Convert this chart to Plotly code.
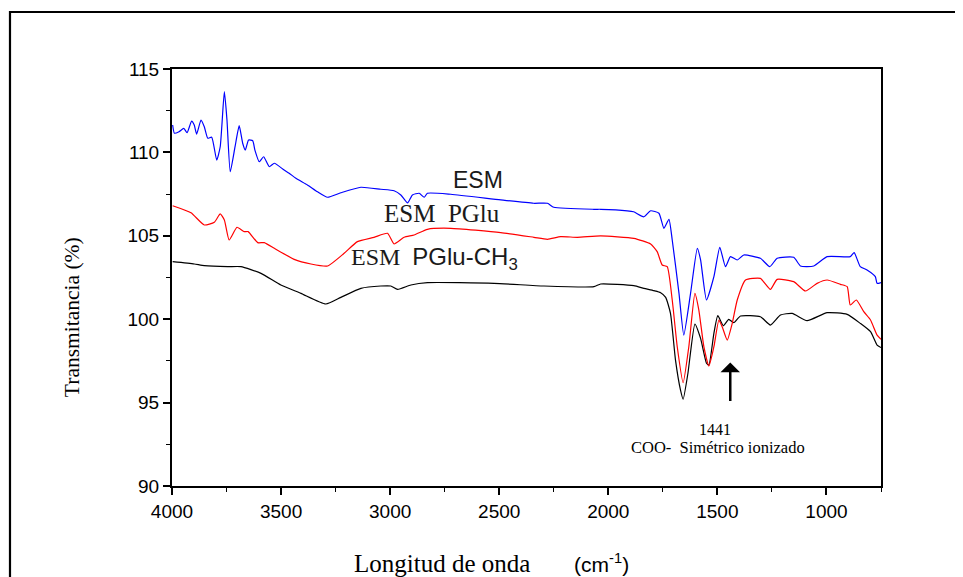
import plotly.graph_objects as go

# ESM (blue)
esm_x = [3997, 3989, 3968, 3946, 3931, 3910, 3898, 3887, 3867, 3852, 3836, 3818, 3795, 3779, 3760,
         3748, 3733, 3711, 3692, 3676, 3664, 3649, 3630, 3620, 3600, 3580, 3554, 3531, 3486, 3463,
         3432, 3379, 3333, 3287, 3226, 3134, 3043, 2982, 2951, 2920, 2898, 2867, 2844, 2829, 2722,
         2493, 2342, 2279, 2250, 2067, 2035, 1913, 1884, 1837, 1806, 1768, 1745, 1722, 1707, 1676,
         1654, 1623, 1592, 1577, 1550, 1516, 1489, 1463, 1440, 1409, 1379, 1303, 1260, 1226, 1150,
         1119, 1058, 997, 891, 873, 845, 814, 776, 768, 750]
esm_y = [111.64, 111.15, 111.24, 111.44, 111.18, 111.88, 111.64, 111.10, 111.94, 111.54, 110.85, 110.91,
         109.54, 110.34, 113.64, 111.94, 108.84, 110.34, 111.60, 110.55, 110.14, 110.74, 110.70, 110.14,
         109.44, 109.74, 109.14, 109.35, 108.94, 108.75, 108.45, 108.05, 107.64, 107.31, 107.58, 107.91,
         107.79, 107.70, 107.45, 106.97, 107.45, 107.55, 107.31, 107.55, 107.49, 107.15, 106.95, 106.95,
         106.71, 106.59, 106.59, 106.50, 106.44, 106.14, 106.50, 106.35, 105.45, 105.99, 104.75, 101.55,
         99.05, 101.55, 104.25, 103.55, 101.15, 102.55, 104.31, 103.15, 103.75, 103.55, 103.85, 103.65,
         103.15, 103.65, 103.71, 103.19, 103.19, 103.75, 103.75, 103.99, 103.15, 102.95, 102.55, 102.15,
         102.2]

# ESM PGlu (red)
pglu_x = [3997, 3913, 3852, 3806, 3779, 3760, 3738, 3702, 3669, 3651, 3607, 3577, 3531, 3440, 3363,
          3287, 3211, 3150, 3074, 3012, 2982, 2936, 2890, 2829, 2722, 2493, 2341, 2279, 2218, 2142,
          2035, 1883, 1806, 1776, 1753, 1730, 1707, 1684, 1657, 1631, 1603, 1585, 1562, 1539, 1516,
          1493, 1478, 1455, 1432, 1409, 1371, 1303, 1257, 1226, 1150, 1096, 1043, 997, 936, 905,
          891, 863, 829, 798, 768, 750]
pglu_y = [106.80, 106.38, 105.65, 105.81, 106.31, 105.95, 104.75, 105.51, 105.25, 105.25, 104.59, 104.59,
          104.25, 103.59, 103.31, 103.19, 103.95, 104.65, 104.91, 105.15, 104.51, 104.91, 105.05, 105.39,
          105.45, 105.19, 104.91, 104.79, 104.95, 104.91, 104.99, 104.85, 104.51, 104.05, 103.25, 103.15,
          101.15, 98.35, 96.19, 98.35, 101.55, 100.55, 98.35, 97.19, 98.35, 99.95, 99.55, 98.75, 99.75,
          101.15, 102.35, 102.45, 101.79, 102.39, 102.25, 101.69, 102.15, 102.35, 102.09, 101.95, 100.85,
          101.15, 100.45, 99.95, 99.05, 98.8]

# ESM PGlu-CH3 (black)
ch3_x = [3997, 3898, 3852, 3745, 3684, 3592, 3501, 3409, 3295, 3226, 3134, 3043, 2997, 2966, 2905,
         2829, 2524, 2295, 2066, 2035, 1883, 1837, 1791, 1760, 1737, 1715, 1692, 1669, 1657, 1635,
         1603, 1577, 1550, 1539, 1516, 1498, 1473, 1448, 1425, 1394, 1303, 1257, 1211, 1157, 1089,
         997, 905, 845, 798, 768, 750]
ch3_y = [103.45, 103.31, 103.21, 103.15, 103.15, 102.75, 102.05, 101.55, 100.91, 101.31, 101.85, 101.99,
         101.99, 101.79, 102.05, 102.19, 102.15, 101.99, 101.95, 102.11, 102.01, 101.85, 101.71, 101.59,
         101.31, 100.35, 97.55, 95.75, 95.20, 96.76, 99.71, 98.85, 97.36, 97.25, 99.15, 100.21, 99.61,
         99.99, 99.79, 100.19, 100.15, 99.65, 100.25, 100.35, 99.91, 100.39, 100.29, 99.75, 99.25, 98.45,
         98.3]

x_ticks = [4000, 3500, 3000, 2500, 2000, 1500, 1000]
y_ticks = [90, 95, 100, 105, 110, 115]

SERIF = "Liberation Serif, Times New Roman, serif"
SANS = "Liberation Sans, Arial, sans-serif"

fig = go.Figure()
for xs, ys, col, nm in [(ch3_x, ch3_y, "#000000", "ESM PGlu-CH3"),
                        (pglu_x, pglu_y, "#ff0000", "ESM PGlu"),
                        (esm_x, esm_y, "#0000ff", "ESM")]:
    fig.add_trace(go.Scatter(x=xs, y=ys, mode="lines", name=nm,
                             line=dict(color=col, width=1.2, shape="spline", smoothing=0.5)))

# page body has an 8px margin: compensate so plot area sits at 172..881 x 69..486 on screen
fig.update_layout(
    width=963, height=577,
    margin=dict(l=164, r=90, t=61, b=99),
    paper_bgcolor="white", plot_bgcolor="white",
    showlegend=False,
    font=dict(family=SANS, color="black"),
)
axis_common = dict(
    showline=True, linecolor="black", linewidth=2, mirror=True,
    ticks="outside", ticklen=7, tickwidth=1.5, tickcolor="black",
    showgrid=False, zeroline=False,
    tickfont=dict(family=SANS, size=19, color="black"),
)
fig.update_xaxes(range=[4000, 750], tickvals=x_ticks, ticktext=[str(v) for v in x_ticks],
                 minor=dict(dtick=250, tick0=0, ticks="outside", ticklen=4, tickwidth=1.2,
                            tickcolor="black", showgrid=False),
                 **axis_common)
fig.update_yaxes(range=[90, 115], tickvals=y_ticks, ticktext=[str(v) for v in y_ticks],
                 minor=dict(dtick=2.5, tick0=0, ticks="outside", ticklen=4, tickwidth=1.2,
                            tickcolor="black", showgrid=False),
                 **axis_common)

# outer frame
fig.add_shape(type="rect", xref="paper", yref="paper",
              x0=-0.2285, x1=1.25, y0=-0.35, y1=1.1367,
              line=dict(color="black", width=2.2), fillcolor="rgba(0,0,0,0)", layer="below")

def note(text, x, y, family, size, color="#1a1a1a", **kw):
    return dict(text=text, x=x, y=y, xref="paper", yref="paper", showarrow=False,
                xanchor="center", yanchor="middle", font=dict(family=family, size=size, color=color), **kw)

ann = [
    note("ESM", 0.431, 0.7338, SANS, 23),
    note("ESM  PGlu", 0.3808, 0.6523, SERIF, 25),
    note("ESM  <span style='font-family:Liberation Sans'>PGlu-CH<sub>3</sub></span>", 0.3709, 0.5444, SERIF, 24),
    note("1441", 0.7659, 0.1343, SERIF, 16, "black"),
    note("COO-  Simétrico ionizado", 0.7701, 0.0935, SERIF, 16.5, "black"),
    dict(x=1441, y=97.4, ax=1441, ay=95.0, xref="x", yref="y", axref="x", ayref="y",
         text="", showarrow=True, arrowhead=1, arrowsize=1.3, arrowwidth=2.5, arrowcolor="black"),
    note("Transmitancia (%)", -0.1410, 0.405, SERIF, 21.5, "black", textangle=-90),
    note("Longitud de onda       <span style='font-family:Liberation Sans;font-size:21px'>(cm<sup>-1</sup>)</span>",
         0.4513, -0.187, SERIF, 25, "black"),
]
fig.update_layout(annotations=ann)

fig.write_html("out.html")
